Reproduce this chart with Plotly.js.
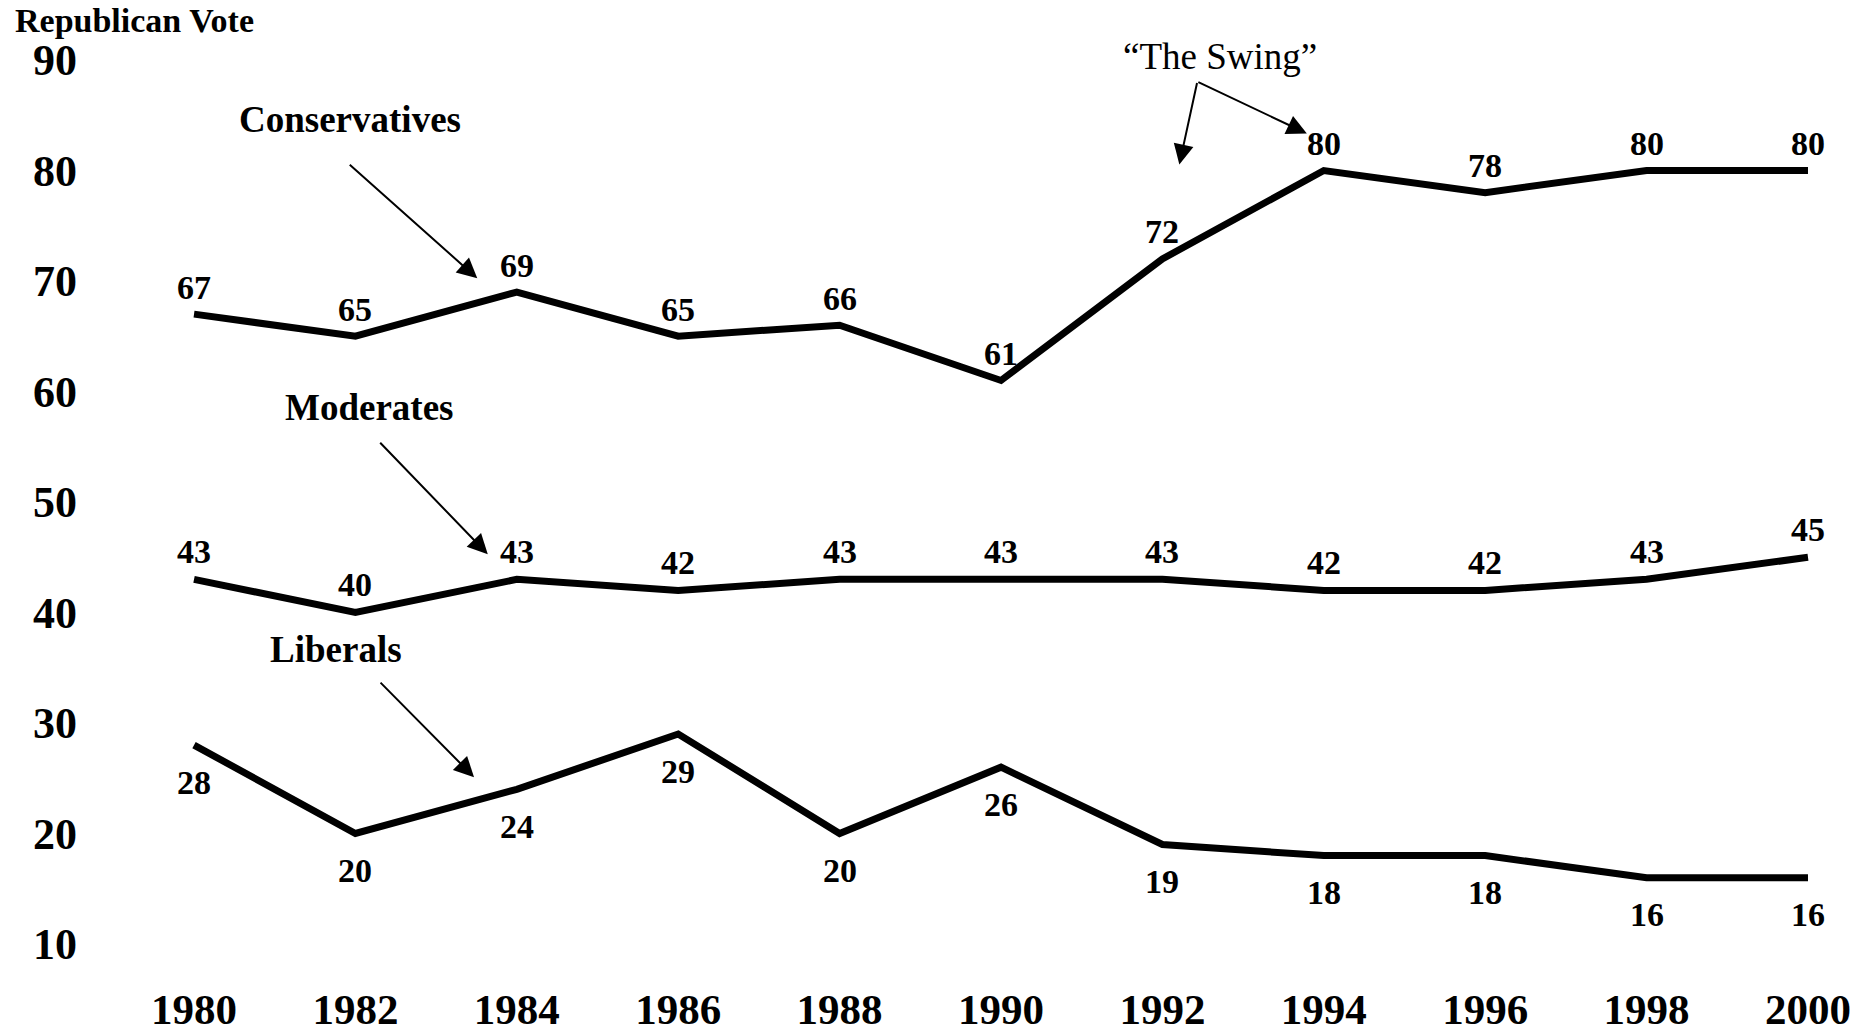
<!DOCTYPE html>
<html>
<head>
<meta charset="utf-8">
<script src="https://cdn.plot.ly/plotly-3.0.1.min.js"></script>
<style>html,body{margin:0;padding:0;background:#fff;}#chart{width:1868px;height:1035px;}</style>
</head>
<body>
<div id="chart"></div>
<script>
const years = [1980, 1982, 1984, 1986, 1988, 1990, 1992, 1994, 1996, 1998, 2000];
const conservatives = [67, 65, 69, 65, 66, 61, 72, 80, 78, 80, 80];
const moderates = [43, 40, 43, 42, 43, 43, 43, 42, 42, 43, 45];
const liberals = [28, 20, 24, 29, 20, 26, 19, 18, 18, 16, 16];
const yTicks = [10, 20, 30, 40, 50, 60, 70, 80, 90];

const serif = "'Liberation Serif', 'Times New Roman', serif";
const labelFont = {family: serif, size: 34, color: '#000', weight: 'bold'};

function series(name, vals) {
  return {
    x: years, y: vals, name: name, type: 'scatter', mode: 'lines',
    line: {color: '#000', width: 7, shape: 'linear'},
    cliponaxis: false, hoverinfo: 'skip'
  };
}

const data = [
  series('Conservatives', conservatives),
  series('Moderates', moderates),
  series('Liberals', liberals)
];

function valueLabels(vals, shift) {
  return vals.map((v, i) => ({
    x: years[i], y: v, text: '<b>' + v + '</b>', showarrow: false,
    yshift: shift, xanchor: 'center', yanchor: 'middle', font: labelFont
  }));
}

const arrowBase = {showarrow: true, arrowhead: 2, arrowsize: 2, arrowwidth: 2, arrowcolor: '#000', standoff: 0, text: ''};
const nameFont = {family: serif, size: 37, color: '#000', weight: 'bold'};

const annotations = [
  {xref: 'paper', yref: 'paper', x: -0.0443, y: 1.0429, xanchor: 'left', yanchor: 'middle', showarrow: false,
   text: '<b>Republican Vote</b>', font: {family: serif, size: 34, color: '#000'}},
  {x: 1981.93, y: 84.62, showarrow: false, text: '<b>Conservatives</b>', font: nameFont},
  Object.assign({}, arrowBase, {x: 1983.51, y: 70.24, ax: -129, ay: -115}),
  {x: 1982.18, y: 58.57, showarrow: false, text: '<b>Moderates</b>', font: nameFont},
  Object.assign({}, arrowBase, {x: 1983.64, y: 45.27, ax: -109, ay: -113}),
  {x: 1981.76, y: 36.68, showarrow: false, text: '<b>Liberals</b>', font: nameFont},
  Object.assign({}, arrowBase, {x: 1983.47, y: 25.1, ax: -95, ay: -96}),
  {xref: 'paper', yref: 'paper', x: 0.6502, y: 1.0038, xanchor: 'center', yanchor: 'middle', showarrow: false,
   text: '\u201cThe Swing\u201d', font: {family: serif, size: 37, color: '#000'}},
  Object.assign({}, arrowBase, {x: 1992.21, y: 80.55, ax: 18, ay: -83}),
  Object.assign({}, arrowBase, {x: 1993.79, y: 83.35, ax: -110, ay: -52})
].concat(valueLabels(conservatives, 27), valueLabels(moderates, 28), valueLabels(liberals, -37));

const layout = {
  width: 1868, height: 1035,
  margin: {l: 90, r: 40, t: 59.5, b: 55},
  paper_bgcolor: '#fff', plot_bgcolor: '#fff',
  showlegend: false,
  xaxis: {
    range: [1978.711, 2000.248], tickvals: years, ticktext: years.map(String),
    showgrid: false, zeroline: false, showline: false, ticks: '',
    tickfont: {family: serif, size: 43, color: '#000', weight: 'bold'}
  },
  yaxis: {
    range: [6.74, 90], tickvals: yTicks, ticktext: yTicks.map(String),
    showgrid: false, zeroline: false, showline: false, ticks: '',
    ticklabelstandoff: 12,
    tickfont: {family: serif, size: 44, color: '#000', weight: 'bold'}
  },
  annotations: annotations
};

Plotly.newPlot('chart', data, layout, {displayModeBar: false, staticPlot: true});
</script>
</body>
</html>
